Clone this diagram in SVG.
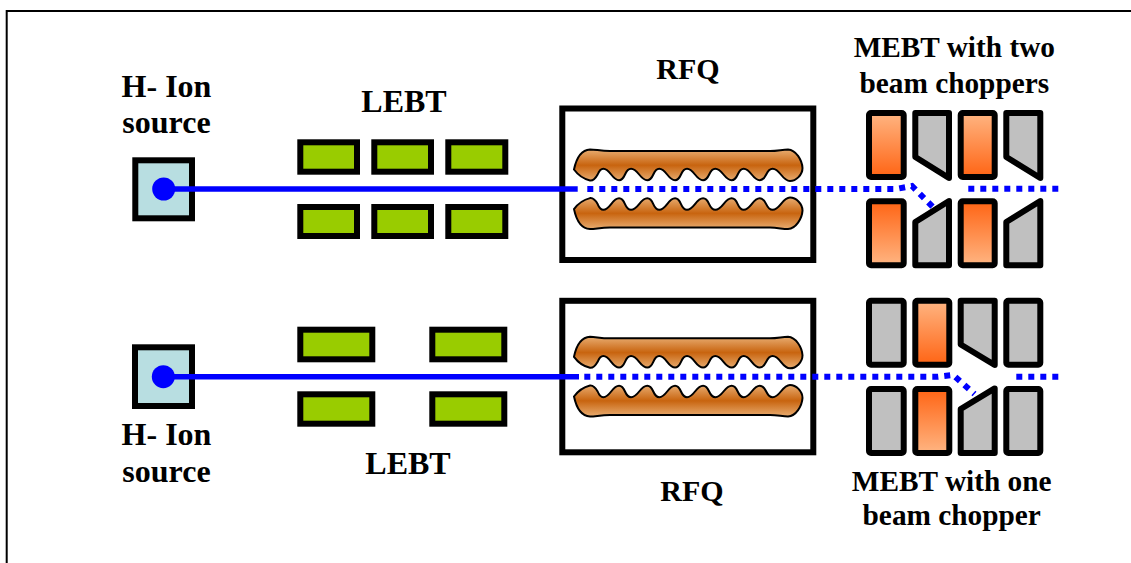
<svg xmlns="http://www.w3.org/2000/svg" xmlns:xlink="http://www.w3.org/1999/xlink" width="1131" height="563" viewBox="0 0 1131 563">
<style>
text{font-family:"Liberation Serif","Times New Roman",serif;font-weight:bold;fill:#000;text-anchor:middle}
.t32{font-size:32px}
.t30{font-size:30px}
.t29{font-size:29.3px}
.src{fill:#B8DEE1;stroke:#000;stroke-width:6}
.lebt{fill:#99CC00;stroke:#000;stroke-width:6}
.box{fill:#fff;stroke:#000;stroke-width:6}
.vane{fill:url(#vaneGrad);stroke:#000;stroke-width:2}
.grey{fill:#C0C0C0;stroke:#000;stroke-width:6;stroke-linejoin:round}
.oru{fill:url(#orangeUp);stroke:#000;stroke-width:6;stroke-linejoin:round}
.ord{fill:url(#orangeDown);stroke:#000;stroke-width:6;stroke-linejoin:round}
.beam{fill:none;stroke:#0000FF;stroke-width:5.6}
.dot{fill:none;stroke:#0000FF;stroke-width:6;stroke-dasharray:6 6}
</style>
<defs>
<linearGradient id="vaneGrad" x1="0" y1="0" x2="0" y2="1"><stop offset="0" stop-color="#E8AC70"/><stop offset="0.5" stop-color="#C8640F"/><stop offset="1" stop-color="#E8AC70"/></linearGradient>
<linearGradient id="orangeUp" x1="0" y1="0" x2="0" y2="1"><stop offset="0" stop-color="#FFB582"/><stop offset="1" stop-color="#FF6414"/></linearGradient>
<linearGradient id="orangeDown" x1="0" y1="0" x2="0" y2="1"><stop offset="0" stop-color="#FF6414"/><stop offset="1" stop-color="#FFB582"/></linearGradient>
<path id="v" class="vane" d="M574,169.5C576,160 580,150 590,149.5C596,149.5 600,151 610,151L770,151C778,151 782,149.5 788,149.5C796,150 802,160 802.5,168C802.5,175 796,181 790,181Q786,181 780.85,174.5Q771.7,163 766.2,174.5Q760.7,186 751.7,174.5Q742.7,163 737.7,174.5Q732.7,186 723.5,174.5Q714.3,163 709.15,174.5Q704,186 695,174.5Q686,163 681,174.5Q676,186 667.15,174.5Q658.3,163 653.3,174.5Q648.3,186 639.15,174.5Q630,163 625,174.5Q620,186 611.15,174.5Q602.3,163 597.65,174.5Q594,181 590,180.5C584,179 578,175 574,169.5Z"/>
</defs>
<rect width="1131" height="563" fill="#fff"/>
<path id="frame" d="M6.7,563V11H1131" fill="none" stroke="#000" stroke-width="2"/>

<g id="source-top"><rect class="src" x="135.3" y="160.3" width="56.7" height="58"/><circle cx="163.7" cy="189" r="11.5" fill="#0000FF"/><text class="t32" x="166.5" y="96.5">H- Ion</text><text class="t32" x="166.5" y="133">source</text></g>
<g id="source-bottom"><rect class="src" x="135" y="347.3" width="57" height="58.7"/><circle cx="163.3" cy="376.7" r="11.5" fill="#0000FF"/><text class="t32" x="166.5" y="445">H- Ion</text><text class="t32" x="166.5" y="482">source</text></g>

<g id="lebt-top">
<rect class="lebt" x="300.3" y="142.3" width="56.7" height="29.4"/><rect class="lebt" x="374.3" y="142.3" width="56.7" height="29.4"/><rect class="lebt" x="448.3" y="142.3" width="57" height="29.4"/>
<rect class="lebt" x="300.3" y="207" width="56.7" height="29"/><rect class="lebt" x="374.3" y="207" width="56.7" height="29"/><rect class="lebt" x="448.3" y="207" width="57" height="29"/>
<text class="t32" x="404" y="112">LEBT</text></g>
<g id="lebt-bottom">
<rect class="lebt" x="300.3" y="329.7" width="72" height="29.6"/><rect class="lebt" x="432.3" y="329.7" width="72" height="29.6"/>
<rect class="lebt" x="300.3" y="394.3" width="72" height="29.4"/><rect class="lebt" x="432.3" y="394.3" width="72" height="29.4"/>
<text class="t32" x="408" y="474">LEBT</text></g>

<g id="rfq-top"><rect class="box" x="562.3" y="108.5" width="251" height="151.5"/><use xlink:href="#v" href="#v"/><use xlink:href="#v" href="#v" transform="matrix(1 0 0 -1 0 378.6)"/><text class="t30" x="688" y="79">RFQ</text></g>
<g id="rfq-bottom"><rect class="box" x="562.3" y="300.8" width="251" height="151.5"/><use xlink:href="#v" href="#v" transform="translate(0 187.3)"/><use xlink:href="#v" href="#v" transform="matrix(1 0 0 -1 0 566)"/><text class="t30" x="692" y="501">RFQ</text></g>

<g id="mebt-top">
<rect class="oru" x="869" y="113" width="34.7" height="64" rx="2"/>
<path class="grey" d="M915.3,113H949V178L915.3,157Z"/>
<rect class="oru" x="960.7" y="113" width="34" height="64" rx="2"/>
<path class="grey" d="M1006.3,113H1040.3V178L1006.3,157Z"/>
<rect class="ord" x="869" y="201.3" width="34.7" height="64" rx="2"/>
<path class="grey" d="M915.3,265.3H949V201L915.3,222Z"/>
<rect class="ord" x="960.7" y="201.3" width="34" height="64" rx="2"/>
<path class="grey" d="M1006.3,265.3H1040.3V201L1006.3,222Z"/>
<text class="t29" x="954.3" y="56.7">MEBT with two</text><text class="t29" x="954.3" y="92.7">beam choppers</text></g>
<g id="mebt-bottom">
<rect class="grey" x="869" y="300.7" width="34.7" height="64" rx="2"/>
<rect class="oru" x="915.3" y="300.7" width="34" height="64" rx="2"/>
<path class="grey" d="M960.7,300.7H994.7V365L960.7,344.5Z"/>
<rect class="grey" x="1006.3" y="300.7" width="34" height="64" rx="2"/>
<rect class="grey" x="869" y="389" width="34.7" height="64" rx="2"/>
<rect class="ord" x="915.3" y="389" width="34" height="64" rx="2"/>
<path class="grey" d="M960.7,453H994.7V388.4L960.7,409Z"/>
<rect class="grey" x="1006.3" y="389" width="34" height="64" rx="2"/>
<text class="t29" x="951.7" y="490.7">MEBT with one</text><text class="t29" x="951.7" y="525">beam chopper</text></g>

<g id="connectors">
<path class="beam" d="M164,189H577.7"/>
<path class="dot" d="M587.3,189H896L912,186L934,208"/>
<path class="dot" d="M968.3,188.7H1058.5"/>
<path class="beam" d="M164,376.7H579"/>
<path class="dot" d="M584.3,376.7H938L953,375L974.5,394"/>
<path class="dot" d="M1016.3,376.7H1058.5"/>
</g>
</svg>
